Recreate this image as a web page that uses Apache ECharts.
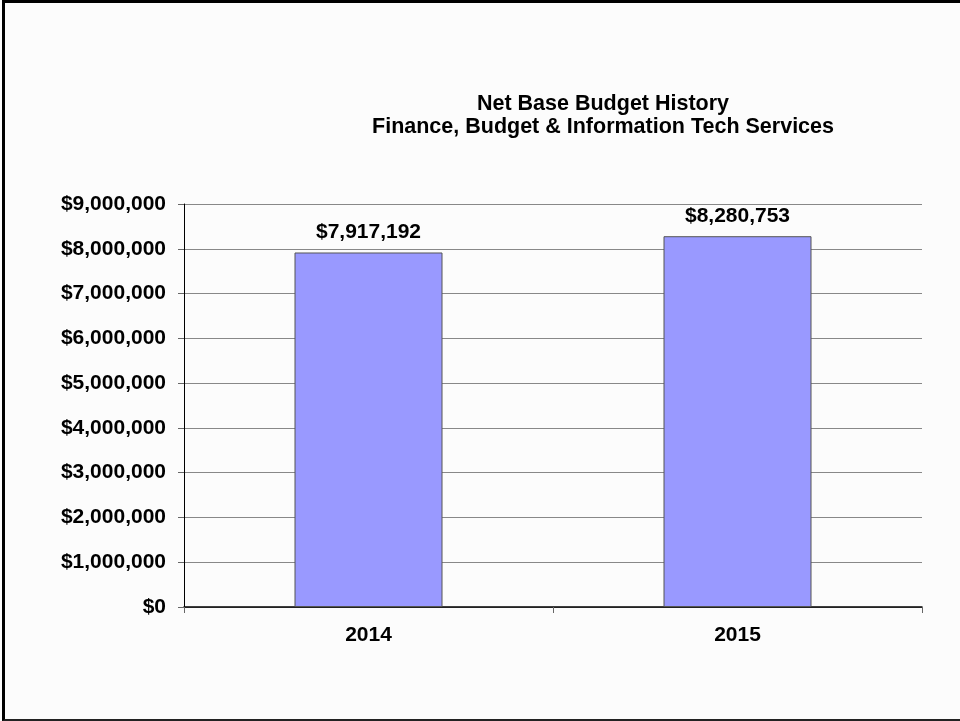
<!DOCTYPE html>
<html>
<head>
<meta charset="utf-8">
<script src="https://cdn.jsdelivr.net/npm/echarts@6/dist/echarts.min.js"></script>
<style>
  html, body { margin: 0; padding: 0; background: #fcfcfc; }
  #frame {
    position: absolute; left: 2px; top: 0; width: 958px; height: 721px;
    box-sizing: border-box;
    border-top: 3px solid #000; border-left: 3px solid #000; border-bottom: 2px solid #222;
  }
  #chart { position: absolute; left: 0; top: 0; width: 960px; height: 721px; }
</style>
</head>
<body>
<div id="chart"></div>
<div id="frame"></div>
<script>
// Net base budget by fiscal year
const years = ['2014', '2015'];
const budget = [7917192, 8280753];
const yTicks = { min: 0, max: 9000000, interval: 1000000 };

const money = v => '$' + Math.round(v).toLocaleString('en-US');
const font = '"Liberation Sans", Arial, sans-serif';

const chart = echarts.init(document.getElementById('chart'), null, { renderer: 'canvas' });
chart.setOption({
  backgroundColor: 'transparent',
  animation: false,
  title: {
    text: 'Net Base Budget History\nFinance, Budget & Information Tech Services',
    left: 598, top: 88, textAlign: 'center',
    textStyle: { fontFamily: font, fontSize: 21.5, fontWeight: 'bold', color: '#000', lineHeight: 23, align: 'center' }
  },
  grid: { left: 184, right: 38, top: 204, bottom: 114 },
  xAxis: {
    type: 'category',
    data: years,
    axisLine: { lineStyle: { color: '#000', width: 1.5 } },
    axisTick: { show: true, length: 6, lineStyle: { color: '#666' } },
    axisLabel: { margin: 18, fontFamily: font, fontSize: 21, fontWeight: 'bold', color: '#000' }
  },
  yAxis: {
    type: 'value',
    min: yTicks.min, max: yTicks.max, interval: yTicks.interval,
    axisLine: { show: true, lineStyle: { color: '#000', width: 1 } },
    axisTick: { show: true, length: 6, lineStyle: { color: '#666' } },
    axisLabel: { margin: 18, fontFamily: font, fontSize: 21, fontWeight: 'bold', color: '#000', formatter: money },
    splitLine: { lineStyle: { color: '#888', width: 1 } }
  },
  series: [{
    type: 'bar',
    data: budget,
    barWidth: 148,
    itemStyle: { color: '#9999ff', borderColor: '#555', borderWidth: 1 },
    label: {
      show: true, position: 'top', distance: 10,
      fontFamily: font, fontSize: 21, fontWeight: 'bold', color: '#000',
      formatter: p => money(p.value)
    }
  }]
});
</script>
</body>
</html>
